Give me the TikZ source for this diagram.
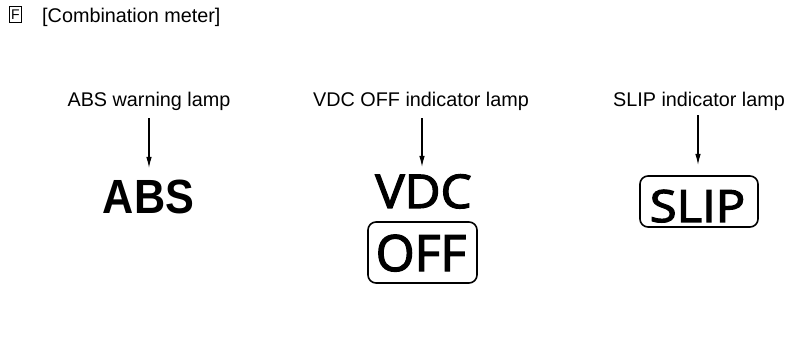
\documentclass[tikz,border=0pt]{standalone}
\usepackage{fontspec}
\setmainfont{Liberation Sans}
\newfontfamily\lampfont{Open Sans}[FakeBold=2.6]
\usetikzlibrary{arrows.meta}
\tikzset{
  lbl/.style={anchor=base, inner sep=0pt, font=\fontsize{19.8}{22}\selectfont},
  lamptxt/.style={anchor=base, inner sep=0pt},
  ptr/.style={line width=1.2pt, -{Latex[length=11pt,width=5.5pt]}},
  lampbox/.style={draw, line width=1.6pt, rounded corners=8pt},
}
\begin{document}
\begin{tikzpicture}[x=1pt,y=-1pt]
\useasboundingbox (0,0) rectangle (789,363);
% header
\node[draw, line width=1pt, minimum width=12pt, minimum height=15.5pt, inner sep=0pt,
      font=\fontsize{14}{15}\selectfont] (fbox) at (15.5,14.5) {F};
\node[lbl, anchor=base west] (title) at (42,23) {[Combination meter]};
% labels
\node[lbl] (labs) at (149,107) {ABS warning lamp};
\node[lbl] (lvdc) at (421,107) {VDC OFF indicator lamp};
\node[lbl] (lslip) at (699,107) {SLIP indicator lamp};
% lamps
\node[lamptxt, font=\bfseries\fontsize{48}{50}\selectfont] (abs) at (148.5,214) {\scalebox{0.9}[1]{ABS}};
\node[lamptxt, font=\lampfont\fontsize{46.5}{48}\selectfont] (vdc) at (423.5,208) {\scalebox{1.06}[1]{VDC}};
\node[lampbox, minimum width=109pt, minimum height=61pt] (offbox) at (422.5,252.5) {};
\node[lamptxt, font=\lampfont\fontsize{50}{52}\selectfont] (off) at (421,271) {\scalebox{1.0}[1]{OFF}};
\node[lampbox, minimum width=118pt, minimum height=51pt] (slipbox) at (699,201.5) {};
\node[lamptxt, font=\lampfont\fontsize{44.5}{46}\selectfont] (slip) at (697.5,222) {\scalebox{1.1}[1]{SLIP}};
% arrows
\coordinate (tabs) at (149,168);
\coordinate (tvdc) at (422,167);
\coordinate (tslip) at (698,165);
\draw[ptr] (labs.south -| tabs) ++(0,7) -- (tabs);
\draw[ptr] (lvdc.south -| tvdc) ++(0,7) -- (tvdc);
\draw[ptr] (lslip.south -| tslip) ++(0,4) -- (tslip);
\end{tikzpicture}
\end{document}
